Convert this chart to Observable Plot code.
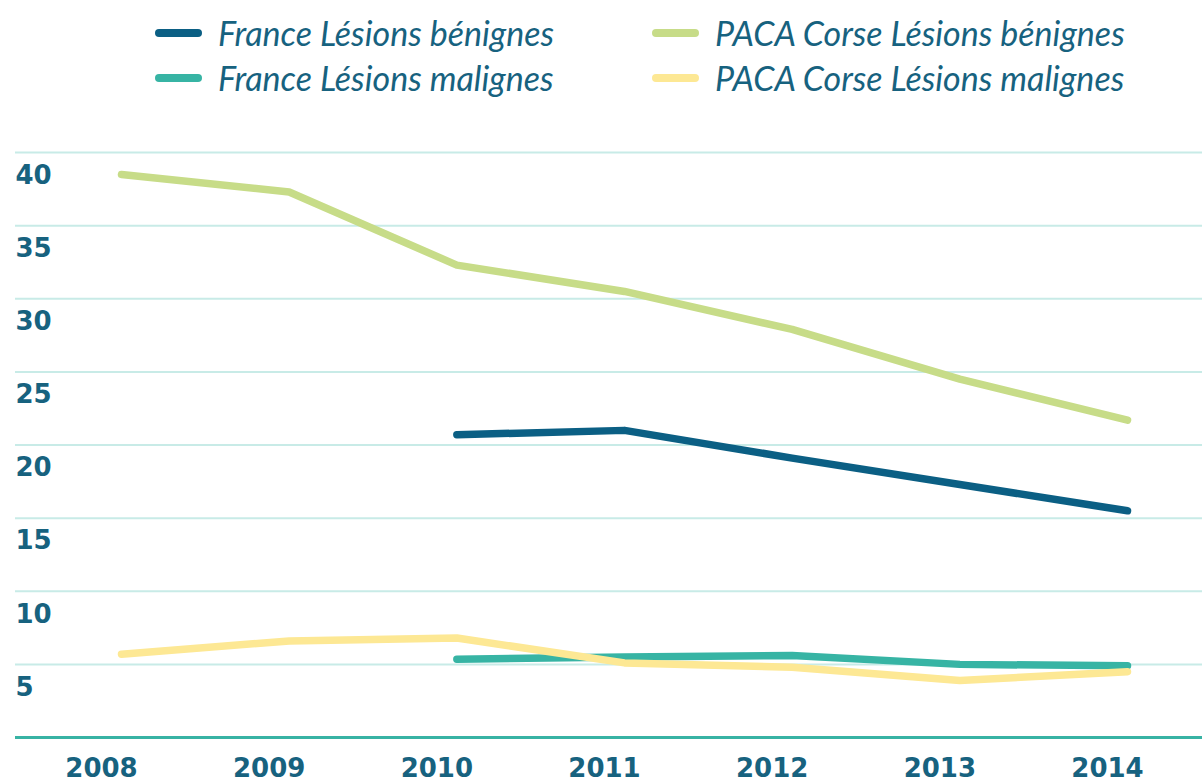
<!DOCTYPE html>
<html>
<head>
<meta charset="utf-8">
<script src="https://cdn.jsdelivr.net/npm/d3@7"></script>
<script src="https://cdn.jsdelivr.net/npm/@observablehq/plot@0.6"></script>
<style>
  html, body { margin: 0; padding: 0; background: #ffffff; }
  #wrap { width: 1202px; height: 783px; position: relative; overflow: hidden; }
  #legend {
    height: 110px; box-sizing: border-box; padding-top: 10px; padding-left: 155px;
    display: grid; grid-template-columns: 497px auto; grid-auto-rows: 45px;
    font-family: Lato, "Open Sans", sans-serif; font-style: italic; font-size: 34px;
    color: #17627f;
  }
  .item { display: flex; align-items: center; white-space: nowrap; }
  .sw { display: inline-block; width: 47px; height: 8px; border-radius: 4px; margin-right: 16px; }
  svg { display: block; }
</style>
</head>
<body>
<div id="wrap">
  <div id="legend"></div>
  <div id="chart"></div>
</div>
<script>
const years = [2008, 2009, 2010, 2011, 2012, 2013, 2014];
const seriesNames = [
  "France Lésions bénignes",
  "France Lésions malignes",
  "PACA Corse Lésions bénignes",
  "PACA Corse Lésions malignes"
];
const seriesColors = ["#0b5f84", "#37b4a4", "#c7dc88", "#fde894"];
// null = no value for that year
const franceBenignes = [null, null, 20.7, 21.0, 19.1, 17.3, 15.5];
const franceMalignes = [null, null, 5.35, 5.5, 5.6, 5.0, 4.9];
const pacaBenignes   = [38.5, 37.3, 32.3, 30.5, 27.9, 24.5, 21.7];
const pacaMalignes   = [5.7, 6.6, 6.8, 5.1, 4.8, 3.9, 4.5];
const yTicks = [5, 10, 15, 20, 25, 30, 35, 40];

const allSeries = [franceBenignes, franceMalignes, pacaBenignes, pacaMalignes];
const rows = [];
allSeries.forEach((vals, i) => {
  vals.forEach((v, j) => {
    if (v != null) rows.push({series: seriesNames[i], year: years[j], value: v});
  });
});

// Legend (order: left column France, right column PACA)
const legend = document.getElementById("legend");
[0, 2, 1, 3].forEach(i => {
  const it = document.createElement("div");
  it.className = "item";
  const sw = document.createElement("span");
  sw.className = "sw";
  sw.style.background = seriesColors[i];
  it.appendChild(sw);
  it.appendChild(document.createTextNode(seriesNames[i]));
  legend.appendChild(it);
});

const labelColor = "#17627f";
const chart = Plot.plot({
  width: 1202,
  height: 673,
  marginTop: 42,
  marginBottom: 46,
  marginLeft: 121,
  marginRight: 75,
  style: {fontFamily: "'DejaVu Sans', sans-serif", background: "#ffffff"},
  x: {domain: [2008, 2014], axis: null},
  y: {domain: [0, 40], axis: null},
  color: {domain: seriesNames, range: seriesColors},
  marks: [
    Plot.ruleY(yTicks, {stroke: "#c8ebe7", strokeWidth: 2, insetLeft: -106, insetRight: -75}),
    Plot.ruleY([0], {stroke: "#38b3a4", strokeWidth: 3, insetLeft: -106, insetRight: -75}),
    Plot.text(yTicks, {
      y: d => d, text: d => String(d), frameAnchor: "left", textAnchor: "start",
      dx: -106, dy: 23, lineAnchor: "middle", fontSize: 26, fontWeight: "bold", fill: labelColor
    }),
    Plot.text(years, {
      x: d => d, text: d => String(d), frameAnchor: "bottom", dy: 31, dx: -20,
      lineAnchor: "middle", fontSize: 26, fontWeight: "bold", fill: labelColor
    }),
    Plot.line(rows, {
      x: "year", y: "value", z: "series", stroke: "series",
      strokeWidth: 7.5, strokeLinecap: "round", strokeLinejoin: "round"
    })
  ]
});
document.getElementById("chart").appendChild(chart);
</script>
</body>
</html>
